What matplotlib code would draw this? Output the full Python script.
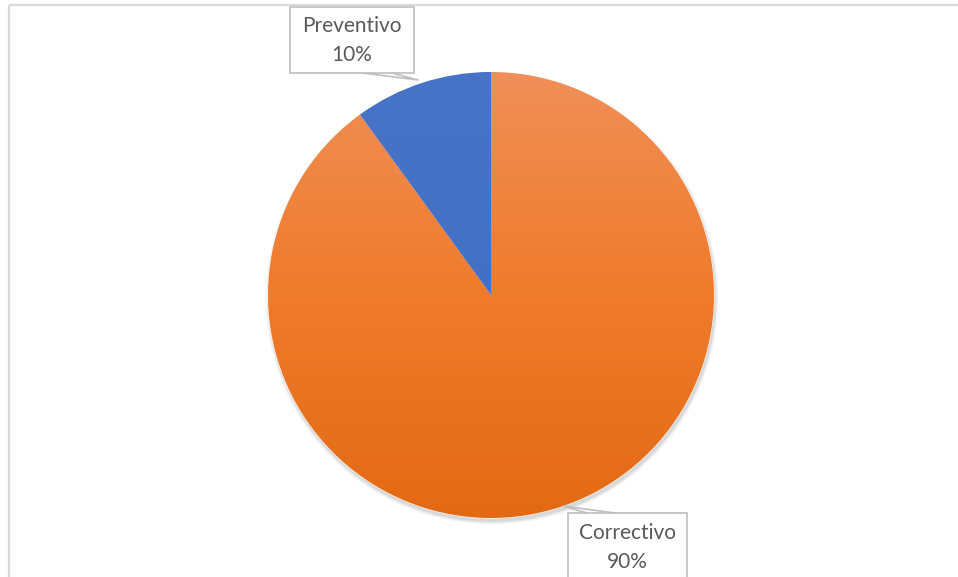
import matplotlib
matplotlib.use("Agg")
import matplotlib.pyplot as plt
import numpy as np
from matplotlib.colors import LinearSegmentedColormap
from matplotlib.patches import Rectangle

labels = ["Correctivo", "Preventivo"]
values = [90, 10]
pct_labels = ["90%", "10%"]

W, H = 958, 577
fig = plt.figure(figsize=(W / 100, H / 100), dpi=100)
ax = fig.add_axes([0, 0, 1, 1])
ax.set_xlim(0, W)
ax.set_ylim(0, H)
ax.axis("off")

cx, cy, r = 491, 577 - 295, 223

# soft shadow
for k, a in zip(range(6, 0, -1), [0.03, 0.04, 0.05, 0.06, 0.07, 0.08]):
    ax.add_patch(plt.Circle((cx + 1, cy - 3), r + k * 0.6, color="#808080", alpha=a, lw=0, zorder=1))

wedges, _ = ax.pie(values, startangle=90, counterclock=False, center=(cx, cy), radius=r,
                   colors=["#ED7D31", "#4472C4"], wedgeprops=dict(linewidth=0.8, edgecolor="white"),
                   frame=True)
ax.set_xlim(0, W)
ax.set_ylim(0, H)
ax.set_aspect("equal")
ax.axis("off")
for w in wedges:
    w.set_zorder(2)

# gradient fills
cmap_o = LinearSegmentedColormap.from_list("o", ["#E36A14", "#EF7B2B", "#F08F58"])
grad = np.linspace(0, 1, 256).reshape(-1, 1)
im = ax.imshow(grad, cmap=cmap_o, extent=[cx - r, cx + r, cy - r, cy + r], origin="lower",
               aspect="auto", zorder=3)
im.set_clip_path(wedges[0])
cmap_b = LinearSegmentedColormap.from_list("b", ["#3F6DBF", "#4774C6"])
im2 = ax.imshow(grad, cmap=cmap_b, extent=[cx - r, cx + r, cy - r, cy + r], origin="lower",
                aspect="auto", zorder=3)
im2.set_clip_path(wedges[1])
ax.set_xlim(0, W)
ax.set_ylim(0, H)

# chart border (cropped)
ax.plot([9, W], [H - 4.5, H - 4.5], color="#D9D9D9", lw=1.6, zorder=5, solid_capstyle="butt")
ax.plot([9.5, 9.5], [0, H - 4.5], color="#D9D9D9", lw=1.6, zorder=5, solid_capstyle="butt")

font = ["Lato", "DejaVu Sans"]
tc = "#595959"
bc = "#BFBFBF"
fs = 15

# Preventivo callout
bx0, by0, bx1, by1 = 290, 7, 414, 73
ax.add_patch(Rectangle((bx0, H - by1), bx1 - bx0, by1 - by0, fill=True, facecolor="white",
                       edgecolor=bc, lw=1.2, zorder=6))
ax.plot([392, 418, 363], [H - 73, H - 80, H - 73], color=bc, lw=1.2, zorder=6)
ax.text((bx0 + bx1) / 2, H - 26, labels[1], ha="center", va="center", fontsize=fs,
        color=tc, family=font, zorder=7)
ax.text((bx0 + bx1) / 2, H - 55, pct_labels[1], ha="center", va="center", fontsize=fs,
        color=tc, family=font, zorder=7)

# Correctivo callout
cx0, cy0, cx1, cy1 = 568, 513, 687, 590
ax.add_patch(Rectangle((cx0, H - cy1), cx1 - cx0, cy1 - cy0, fill=True, facecolor="white",
                       edgecolor=bc, lw=1.2, zorder=6))
ax.plot([587, 563, 615], [H - 513, H - 506, H - 513], color=bc, lw=1.2, zorder=6)
ax.text((cx0 + cx1) / 2, H - 533, labels[0], ha="center", va="center", fontsize=fs,
        color=tc, family=font, zorder=7)
ax.text((cx0 + cx1) / 2, H - 562, pct_labels[0], ha="center", va="center", fontsize=fs,
        color=tc, family=font, zorder=7)

fig.savefig("out.png", dpi=100)
